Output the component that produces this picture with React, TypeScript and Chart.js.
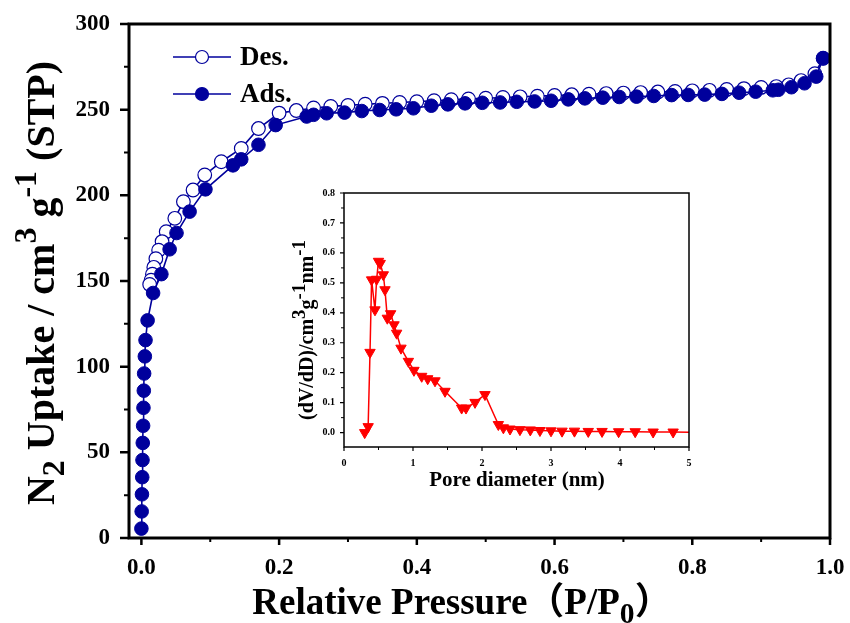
import React, { useEffect, useRef } from 'react';
import { Chart, registerables } from 'chart.js';
Chart.register(...registerables);

const FF = '"Liberation Serif", "Times New Roman", "Noto Sans CJK SC", serif';
const BLUE = '#00009C';
const RED = '#FF0000';

// Adsorption branch (filled circles)
const adsX = [0.0, 0.0004, 0.0008, 0.0012, 0.0016, 0.002, 0.0025, 0.003, 0.0035, 0.004, 0.005, 0.006, 0.009,
  0.017, 0.029, 0.041, 0.051, 0.070, 0.093, 0.133, 0.145, 0.170, 0.195,
  0.240, 0.250, 0.269, 0.295, 0.320, 0.346, 0.370, 0.395,
  0.421, 0.445, 0.470, 0.495, 0.521, 0.545, 0.571, 0.595,
  0.620, 0.644, 0.670, 0.694, 0.719, 0.744, 0.770, 0.794,
  0.818, 0.843, 0.868, 0.892, 0.917, 0.925, 0.944, 0.963, 0.980, 0.990];
const adsY = [5.5, 15.5, 25.5, 35.5, 45.5, 55.5, 65.5, 76, 86, 96, 106, 115.5, 127,
  143, 154, 168.5, 178, 190.5, 203.5, 217.5, 221, 229.5, 241,
  246, 247, 247.9, 248.3, 249.2, 249.8, 250.2, 250.8,
  252.3, 253.1, 253.7, 254, 254.2, 254.6, 254.8, 255.2,
  256, 256.6, 257, 257.4, 257.6, 258, 258.5, 258.6,
  258.8, 259.2, 259.9, 260.5, 261.3, 261.6, 263.1, 265.4, 269.3, 280];

// Desorption branch (open circles)
const desX = [0.990, 0.978, 0.958, 0.940, 0.922, 0.900, 0.875, 0.850, 0.825, 0.800, 0.775, 0.750, 0.725,
  0.700, 0.675, 0.650, 0.625, 0.600, 0.575, 0.550, 0.525, 0.500, 0.475, 0.450, 0.425, 0.400, 0.375,
  0.350, 0.325, 0.300, 0.275, 0.250, 0.225, 0.200, 0.170, 0.145, 0.116, 0.092, 0.075, 0.061, 0.0485,
  0.036, 0.030, 0.025, 0.021, 0.018, 0.016, 0.014, 0.012];
const desY = [280, 271, 267, 264.5, 263.5, 263, 262.3, 261.8, 261.3, 261, 260.6, 260.3, 260,
  259.7, 259.4, 259, 258.7, 258.3, 257.9, 257.5, 257.1, 256.7, 256.3, 255.8, 255.2, 254.7, 254.2,
  253.7, 253.2, 252.5, 251.9, 251, 249.5, 248, 239, 227.4, 219.6, 211.9, 203.1, 196.3, 186.6,
  178.8, 173, 168, 163, 158, 154, 150.5, 148];

// Pore size distribution (inset)
const psdX = [0.30, 0.35, 0.377, 0.40, 0.449, 0.473, 0.50, 0.525, 0.57, 0.594, 0.628, 0.676, 0.725, 0.763,
  0.826, 0.933, 1.014, 1.126, 1.213, 1.319, 1.464, 1.705, 1.768, 1.899, 2.043, 2.237, 2.31, 2.406,
  2.55, 2.70, 2.84, 3.0, 3.16, 3.34, 3.54, 3.74, 3.98, 4.22, 4.48, 4.77, 5.1];
const psdY = [0.0, 0.02, 0.268, 0.51, 0.41, 0.512, 0.572, 0.565, 0.527, 0.477, 0.382, 0.397, 0.36, 0.332,
  0.282, 0.238, 0.208, 0.188, 0.18, 0.173, 0.138, 0.082, 0.082, 0.101, 0.127, 0.027, 0.016, 0.012,
  0.01, 0.009, 0.007, 0.006, 0.005, 0.005, 0.004, 0.004, 0.003, 0.003, 0.002, 0.002, 0.001];

const mainXTicks = [0, 0.2, 0.4, 0.6, 0.8, 1.0];
const mainXMinor = [0.1, 0.3, 0.5, 0.7, 0.9];
const mainYTicks = [0, 50, 100, 150, 200, 250, 300];
const mainYMinor = [25, 75, 125, 175, 225, 275];
const insetXTicks = [0, 1, 2, 3, 4, 5];
const insetXMinor = [0.5, 1.5, 2.5, 3.5, 4.5];
const insetYTicks = [0, 0.1, 0.2, 0.3, 0.4, 0.5, 0.6, 0.7, 0.8];
const insetYMinor = [0.05, 0.15, 0.25, 0.35, 0.45, 0.55, 0.65, 0.75];
const legendLabels = ['Des.', 'Ads.'];

type Seg = { t: string; s?: number; dy?: number };

function drawRich(ctx: CanvasRenderingContext2D, segs: Seg[], x: number, y: number, size: number, rot: number) {
  ctx.save();
  ctx.translate(x, y);
  if (rot) ctx.rotate(rot);
  const font = (sz: number) => `bold ${sz}px ${FF}`;
  let total = 0;
  const widths = segs.map((sg) => {
    ctx.font = font(size * (sg.s || 1));
    const w = ctx.measureText(sg.t).width;
    total += w;
    return w;
  });
  let cx = -total / 2;
  ctx.textBaseline = 'alphabetic';
  ctx.textAlign = 'left';
  ctx.fillStyle = '#000';
  segs.forEach((sg, i) => {
    ctx.font = font(size * (sg.s || 1));
    ctx.fillText(sg.t, cx, (sg.dy || 0) * size);
    cx += widths[i];
  });
  ctx.restore();
}

function drawTicks(chart: any, xs: number[], xLen: number, ys: number[], yLen: number, lw: number) {
  const { ctx, chartArea: a, scales } = chart;
  ctx.save();
  ctx.strokeStyle = '#000';
  ctx.lineWidth = lw;
  ctx.beginPath();
  xs.forEach((v) => {
    const p = scales.x.getPixelForValue(v);
    ctx.moveTo(p, a.bottom);
    ctx.lineTo(p, a.bottom + xLen);
  });
  ys.forEach((v) => {
    const p = scales.y.getPixelForValue(v);
    ctx.moveTo(a.left, p);
    ctx.lineTo(a.left - yLen, p);
  });
  ctx.stroke();
  ctx.restore();
}

function zeroPad(s: any) {
  s.paddingLeft = 0;
  s.paddingRight = 0;
  s.paddingTop = 0;
  s.paddingBottom = 0;
}

const mainDecor = {
  id: 'mainDecor',
  afterDraw(chart: any) {
    const { ctx, chartArea: a } = chart;
    ctx.save();
    ctx.strokeStyle = '#000';
    ctx.lineWidth = 3;
    ctx.strokeRect(a.left, a.top, a.right - a.left, a.bottom - a.top);
    ctx.restore();
    drawTicks(chart, mainXTicks, 7, mainYTicks, 9, 2.5);
    drawTicks(chart, mainXMinor, 4, mainYMinor, 5, 2);

    // legend
    const rows = [
      { label: legendLabels[0], y: 57, fill: '#fff' },
      { label: legendLabels[1], y: 94, fill: BLUE },
    ];
    rows.forEach((r) => {
      ctx.save();
      ctx.strokeStyle = BLUE;
      ctx.lineWidth = 1.5;
      ctx.beginPath();
      ctx.moveTo(173, r.y);
      ctx.lineTo(231, r.y);
      ctx.stroke();
      ctx.beginPath();
      ctx.arc(202, r.y, 6.5, 0, Math.PI * 2);
      ctx.fillStyle = r.fill;
      ctx.fill();
      ctx.lineWidth = 1.2;
      ctx.stroke();
      ctx.fillStyle = '#000';
      ctx.font = `bold 27px ${FF}`;
      ctx.textBaseline = 'alphabetic';
      ctx.textAlign = 'left';
      ctx.fillText(r.label, 240, r.y + 8);
      ctx.restore();
    });

    // axis titles
    drawRich(ctx, [
      { t: 'Relative Pressure（P/P' },
      { t: '0', s: 0.8, dy: 0.25 },
      { t: '）' },
    ], 462, 614, 37, 0);
    drawRich(ctx, [
      { t: 'N' },
      { t: '2', s: 0.8, dy: 0.25 },
      { t: ' Uptake / cm' },
      { t: '3', s: 0.8, dy: -0.45 },
      { t: ' g' },
      { t: '-1', s: 0.8, dy: -0.45 },
      { t: ' (STP)' },
    ], 54, 283, 40, -Math.PI / 2);
  },
};

const insetDecor = {
  id: 'insetDecor',
  afterDraw(chart: any) {
    const { ctx, chartArea: a } = chart;
    ctx.save();
    ctx.strokeStyle = '#000';
    ctx.lineWidth = 1.5;
    ctx.strokeRect(a.left, a.top, a.right - a.left, a.bottom - a.top);
    ctx.restore();
    drawTicks(chart, insetXTicks, 4, insetYTicks, 4, 1.2);
    drawTicks(chart, insetXMinor, 3, insetYMinor, 3, 1);
    drawRich(ctx, [{ t: 'Pore diameter (nm)' }], 257, 303, 21, 0);
    drawRich(ctx, [
      { t: '(dV/dD)/cm' },
      { t: '3', s: 0.95, dy: -0.4 },
      { t: 'g' },
      { t: '-1', s: 0.95, dy: -0.4 },
      { t: 'nm' },
      { t: '-1', s: 0.95, dy: -0.4 },
    ], 53, 147, 20, -Math.PI / 2);
  },
};

export default function App() {
  const mainRef = useRef<HTMLCanvasElement>(null);
  const insetRef = useRef<HTMLCanvasElement>(null);

  useEffect(() => {
    const tickFont = { family: FF, size: 23, weight: 'bold' as const };
    const main = new Chart(mainRef.current!, {
      type: 'line',
      data: {
        datasets: [
          {
            label: 'Ads.',
            data: adsX.map((x, i) => ({ x, y: adsY[i] })),
            borderColor: BLUE,
            backgroundColor: BLUE,
            pointBackgroundColor: BLUE,
            pointBorderColor: BLUE,
            pointRadius: 6.8,
            pointBorderWidth: 1,
            borderWidth: 1.6,
            tension: 0,
          },
          {
            label: 'Des.',
            data: desX.map((x, i) => ({ x, y: desY[i] })),
            borderColor: BLUE,
            backgroundColor: '#fff',
            pointBackgroundColor: '#fff',
            pointBorderColor: BLUE,
            pointRadius: 6.8,
            pointBorderWidth: 1.2,
            borderWidth: 1.6,
            tension: 0,
          },
        ],
      },
      options: {
        responsive: false,
        animation: false,
        devicePixelRatio: 1,
        layout: { padding: { top: 24, right: 20, left: 0, bottom: 0 } },
        plugins: { legend: { display: false }, tooltip: { enabled: false } },
        scales: {
          x: {
            type: 'linear',
            min: -0.018,
            max: 1.0,
            grid: { display: false, drawTicks: false },
            border: { display: false },
            afterBuildTicks: (s: any) => { s.ticks = mainXTicks.map((v) => ({ value: v })); },
            afterFit: (s: any) => { s.height = 85; zeroPad(s); },
            ticks: {
              font: tickFont, color: '#000', padding: 16, maxRotation: 0, autoSkip: false,
              callback: (v: any) => Number(v).toFixed(1),
            },
          },
          y: {
            type: 'linear',
            min: 0,
            max: 300,
            grid: { display: false, drawTicks: false },
            border: { display: false },
            afterBuildTicks: (s: any) => { s.ticks = mainYTicks.map((v) => ({ value: v })); },
            afterFit: (s: any) => { s.width = 129; zeroPad(s); },
            ticks: { font: tickFont, color: '#000', padding: 19, autoSkip: false, callback: (v: any) => String(v) },
          },
        },
      },
      plugins: [mainDecor],
    } as any);

    const insetFont = { family: FF, size: 10, weight: 'bold' as const };
    const inset = new Chart(insetRef.current!, {
      type: 'line',
      data: {
        datasets: [
          {
            label: 'PSD',
            data: psdX.map((x, i) => ({ x, y: psdY[i] })),
            borderColor: RED,
            backgroundColor: RED,
            pointBackgroundColor: RED,
            pointBorderColor: RED,
            pointStyle: 'triangle',
            rotation: 180,
            pointRadius: 6,
            pointBorderWidth: 1,
            borderWidth: 1.5,
            tension: 0,
          },
        ],
      },
      options: {
        responsive: false,
        animation: false,
        devicePixelRatio: 1,
        layout: { padding: { top: 10, right: 11, left: 0, bottom: 0 } },
        plugins: { legend: { display: false }, tooltip: { enabled: false } },
        scales: {
          x: {
            type: 'linear',
            min: 0,
            max: 5,
            grid: { display: false, drawTicks: false },
            border: { display: false },
            afterBuildTicks: (s: any) => { s.ticks = insetXTicks.map((v) => ({ value: v })); },
            afterFit: (s: any) => { s.height = 53; zeroPad(s); },
            ticks: { font: insetFont, color: '#000', padding: 10, maxRotation: 0, autoSkip: false, callback: (v: any) => String(v) },
          },
          y: {
            type: 'linear',
            min: -0.048,
            max: 0.8,
            grid: { display: false, drawTicks: false },
            border: { display: false },
            afterBuildTicks: (s: any) => { s.ticks = insetYTicks.map((v) => ({ value: v })); },
            afterFit: (s: any) => { s.width = 84; zeroPad(s); },
            ticks: { font: insetFont, color: '#000', padding: 9, autoSkip: false, callback: (v: any) => Number(v).toFixed(1) },
          },
        },
      },
      plugins: [insetDecor],
    } as any);

    return () => {
      main.destroy();
      inset.destroy();
    };
  }, []);

  return (
    <div style={{ position: 'absolute', left: 0, top: 0, width: 850, height: 623, background: '#fff' }}>
      <canvas ref={mainRef} width={850} height={623} style={{ position: 'absolute', left: 0, top: 0 }} />
      <canvas ref={insetRef} width={440} height={317} style={{ position: 'absolute', left: 260, top: 183 }} />
    </div>
  );
}
